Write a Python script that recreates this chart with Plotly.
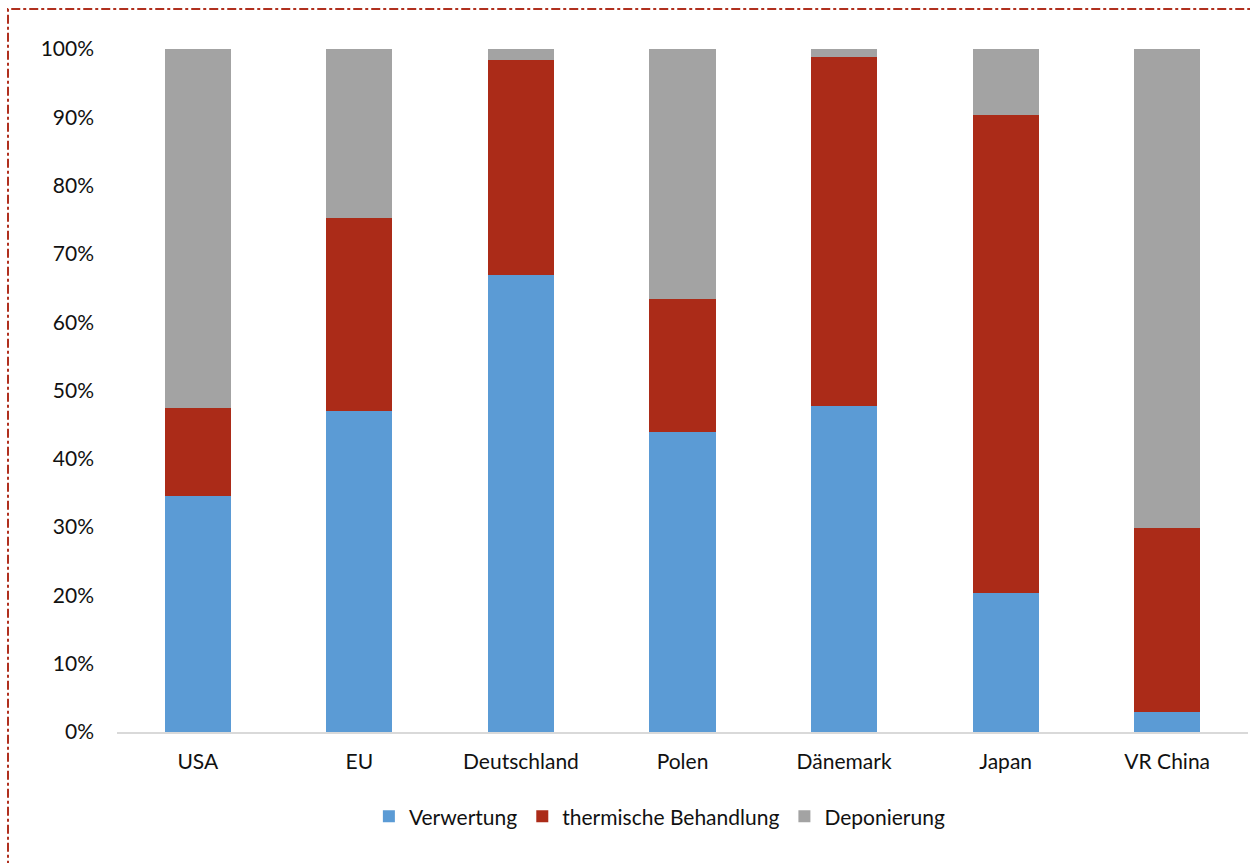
import plotly.graph_objects as go

categories = ["USA", "EU", "Deutschland", "Polen", "Dänemark", "Japan", "VR China"]
verwertung = [34.6, 47.0, 66.9, 43.9, 47.7, 20.4, 2.9]
thermisch = [12.8, 28.3, 31.5, 19.5, 51.1, 69.9, 27.0]
deponierung = [round(100 - a - b, 1) for a, b in zip(verwertung, thermisch)]
y_ticks = [0, 10, 20, 30, 40, 50, 60, 70, 80, 90, 100]

font_family = "Lato, 'Open Sans', sans-serif"

fig = go.Figure()
fig.add_bar(x=categories, y=[v / 100 for v in verwertung], name="Verwertung",
            marker=dict(color="#5b9bd5", line=dict(width=0)))
fig.add_bar(x=categories, y=[v / 100 for v in thermisch], name="thermische Behandlung",
            marker=dict(color="#ab2b18", line=dict(width=0)))
fig.add_bar(x=categories, y=[v / 100 for v in deponierung], name="Deponierung",
            marker=dict(color="#a3a3a3", line=dict(width=0)))

fig.update_layout(
    barmode="stack",
    bargap=0.59,
    width=1250, height=863,
    margin=dict(l=117, r=2, t=49, b=131),
    paper_bgcolor="white", plot_bgcolor="white",
    font=dict(family=font_family, size=21, color="#111111"),
    showlegend=True,
    legend=dict(orientation="h", x=0.48, xanchor="center", y=-0.124, yanchor="middle",
                font=dict(size=21), itemwidth=30, traceorder="normal"),
    xaxis=dict(showline=True, linecolor="#d9d9d9", linewidth=2, ticks="",
               showgrid=False, tickfont=dict(size=21), ticklabelstandoff=10),
    yaxis=dict(range=[0, 1], tickvals=[t / 100 for t in y_ticks],
               ticktext=[f"{t}%" for t in y_ticks], showgrid=False,
               zeroline=False, showline=False, ticks="", ticklabelstandoff=22,
               tickfont=dict(size=21)),
    shapes=[dict(type="rect", xref="paper", yref="paper",
                 x0=(8 - 117) / 1131, x1=1.02,
                 y0=(732 - 880) / 683, y1=(732 - 9) / 683,
                 line=dict(color="#b0301e", width=2, dash="dashdot"),
                 fillcolor="rgba(0,0,0,0)", layer="below")],
)

fig.write_html("out.html")
